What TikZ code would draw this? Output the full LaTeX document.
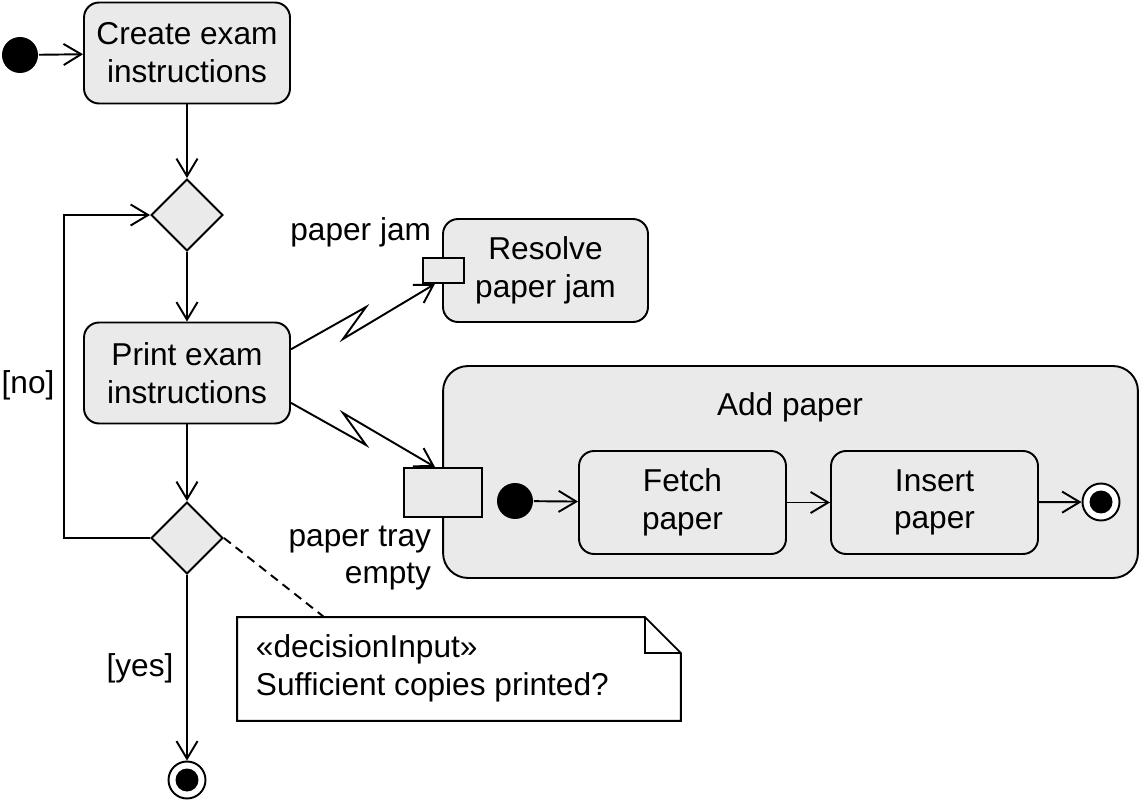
\documentclass[tikz,border=0pt]{standalone}
\usepackage{fontspec}
\setmainfont{Liberation Sans}
\usetikzlibrary{arrows.meta,shapes.geometric,calc}
\definecolor{boxgray}{HTML}{EAEAEA}
\begin{document}
\begin{tikzpicture}[x=0.02cm,y=-0.02cm, line width=1.1pt,
  font=\fontsize{18}{21.5}\selectfont,
  act/.style={draw, fill=boxgray, rounded corners=0.3cm, minimum width=4.12cm, minimum height=2.02cm, align=center, inner sep=0pt},
  dec/.style={draw, fill=boxgray, diamond, minimum width=1.44cm, minimum height=1.44cm, inner sep=0pt},
  pinbox/.style={draw, fill=boxgray, inner sep=0pt},
  initnode/.style={circle, fill=black, minimum size=0.72cm, inner sep=0pt},
  finalnode/.style={circle, draw, fill=white, minimum size=0.74cm, inner sep=0pt,
    path picture={\fill[black] (path picture bounding box.center) circle (0.23cm);}},
  arr/.style={-{Straight Barb[length=10pt,width=12pt]}},
  lbl/.style={inner sep=0pt}]
\useasboundingbox (0,0) rectangle (1140,804);

% main flow
\node[initnode] (init) at (20,55) {};
\node[act] (create) at (187,53) {Create exam\\instructions};
\node[dec] (d1) at (187,215) {};
\node[act] (print) at (187,373) {Print exam\\instructions};
\node[dec] (d2) at (187,538) {};
\node[finalnode] (fin) at (187,780) {};

% resolve paper jam
\node[act, minimum width=4.1cm, minimum height=2.06cm] (resolve) at (545.5,270.5) {Resolve\\paper jam};
\node[pinbox, minimum width=0.82cm, minimum height=0.5cm] (pin1) at (443.5,270.5) {};

% add paper
\node[draw, fill=boxgray, rounded corners=0.5cm, minimum width=13.9cm, minimum height=4.24cm, inner sep=0pt] (add) at (790.5,472) {};
\node[lbl] (addlbl) at (790,407) {Add paper};
\node[pinbox, minimum width=1.56cm, minimum height=0.98cm] (pin2) at (443,492.5) {};
\node[initnode] (init2) at (515,501) {};
\node[act, minimum width=4.14cm, minimum height=2.06cm] (fetch) at (682.5,502.5) {Fetch\\paper};
\node[act, minimum width=4.14cm, minimum height=2.06cm] (insert) at (934.5,502.5) {Insert\\paper};
\node[finalnode] (fin2) at (1101,502) {};

% labels
\node[lbl, anchor=east] (pjlbl) at (432,232) {paper jam};
\node[lbl, anchor=east, align=right] (ptlbl) at (432,558) {paper tray\\empty};
\node[lbl] (no) at (28,385) {[no]};
\node[lbl] (yes) at (140,668) {[yes]};

% note
\node[minimum width=8.84cm, minimum height=2.04cm, inner sep=0pt] (note) at (459,669) {};
\draw[fill=white] (note.south west) -- (note.north west) -- ($(note.north east)+(-36,0)$) -- ($(note.north east)+(0,36)$) -- (note.south east) -- cycle;
\draw ($(note.north east)+(-36,0)$) -- ($(note.north east)+(-36,36)$) -- ($(note.north east)+(0,36)$);
\node[lbl, anchor=west, align=left] (notetext) at (255,668) {«decisionInput»\\Sufficient copies printed?};
\draw[dash pattern=on 5pt off 3.5pt] (d2.east) -- ($(note.north west)+(87,0)$);

% connectors
\draw[arr] (init) -- (create);
\draw[arr] (create) -- (d1);
\draw[arr] (d1) -- (print);
\draw[arr] (print) -- (d2);
\draw[arr] (d2) -- (fin);
\draw[arr] (d2.west) -- ++(-86,0) |- (d1.west);
\draw[arr] (init2) -- (fetch);
\draw[arr] (fetch) -- (insert);
\draw[arr] (insert) -- (fin2);

% interrupting edges
\coordinate (z1a) at (366,307);
\coordinate (z1b) at (343,339);
\draw[arr] ($(print.north east)!0.27!(print.south east)$) -- (z1a) -- (z1b) -- ($(pin1.south west)!0.3!(pin1.south east)$);
\coordinate (z2a) at (366,445);
\coordinate (z2b) at (343,413);
\draw[arr] ($(print.north east)!0.79!(print.south east)$) -- (z2a) -- (z2b) -- ($(pin2.north west)!0.4!(pin2.north east)$);
\end{tikzpicture}
\end{document}
